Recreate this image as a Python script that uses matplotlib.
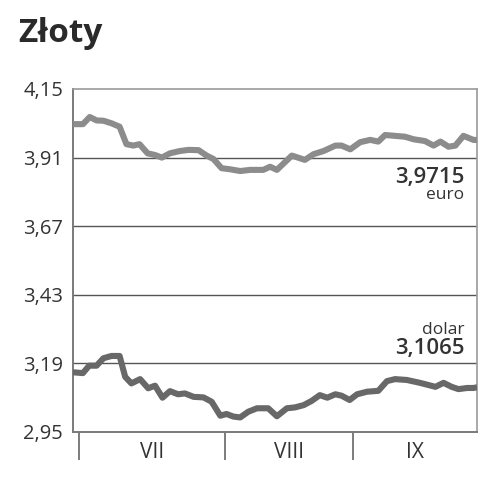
import matplotlib
matplotlib.use("Agg")
import matplotlib.pyplot as plt
import numpy as np

# trading-day index (0 = end of June) and PLN rates
euro_day = [0.0, 1.6, 2.7, 3.8, 4.9, 6.2, 7.5, 8.6, 9.7, 10.7, 12.0, 13.2, 14.3,
            15.6, 17.2, 18.6, 20.2, 21.5, 22.6, 23.9, 25.3, 26.9, 28.5, 30.6,
            31.7, 32.8, 35.2, 37.3, 38.7, 40.3, 42.2, 43.2, 44.6, 46.2, 47.8,
            49.1, 50.2, 51.8, 53.4, 54.8, 56.6, 58.0, 59.1, 60.4, 61.5, 62.8,
            64.4, 65.0]
euro_rate = [4.027, 4.027, 4.052, 4.040, 4.039, 4.030, 4.018, 3.957, 3.952, 3.957,
             3.925, 3.919, 3.910, 3.925, 3.933, 3.937, 3.936, 3.917, 3.905, 3.873,
             3.869, 3.863, 3.867, 3.867, 3.878, 3.867, 3.917, 3.902, 3.922, 3.933,
             3.952, 3.952, 3.939, 3.964, 3.972, 3.966, 3.989, 3.986, 3.983, 3.974,
             3.968, 3.952, 3.966, 3.948, 3.952, 3.986, 3.972, 3.9715]

usd_day = [0.0, 1.6, 2.6, 3.8, 4.9, 6.2, 7.5, 8.4, 9.4, 10.8, 12.1, 13.2, 14.4,
           15.6, 16.9, 18.0, 19.4, 21.0, 22.3, 23.7, 24.7, 25.8, 26.9, 28.2,
           29.6, 31.4, 32.8, 34.4, 35.7, 37.1, 38.4, 39.7, 40.9, 42.2, 43.2,
           44.5, 45.7, 47.3, 49.1, 50.5, 51.8, 53.7, 55.8, 58.3, 59.6, 60.9,
           62.0, 63.4, 64.4, 65.0]
usd_rate = [3.159, 3.156, 3.182, 3.182, 3.208, 3.216, 3.216, 3.143, 3.120, 3.135,
            3.103, 3.112, 3.070, 3.093, 3.082, 3.085, 3.073, 3.071, 3.056, 3.007,
            3.013, 3.004, 3.001, 3.021, 3.033, 3.033, 3.005, 3.033, 3.036, 3.044,
            3.059, 3.079, 3.070, 3.082, 3.077, 3.062, 3.082, 3.091, 3.094, 3.128,
            3.135, 3.132, 3.122, 3.108, 3.122, 3.108, 3.100, 3.104, 3.104, 3.1065]

y_ticks = [2.95, 3.19, 3.43, 3.67, 3.91, 4.15]
month_starts = [1.0, 24.5, 45.1]
month_labels = ["VII", "VIII", "IX"]
x_end = 65.0

plt.rcParams["font.family"] = ["Open Sans", "DejaVu Sans"]
text_col = "#333333"

fig = plt.figure(figsize=(4.8, 4.8), dpi=100)
ax = fig.add_axes([0.152, 0.10, 0.842, 0.7146])

for y in y_ticks[1:-1]:
    ax.axhline(y, color="#555555", lw=1.0, zorder=1)

ax.plot(euro_day, euro_rate, color="#8c8c8c", lw=4.4, solid_joinstyle="round",
        solid_capstyle="butt", zorder=3)
ax.plot(usd_day, usd_rate, color="#686868", lw=4.4, solid_joinstyle="round",
        solid_capstyle="butt", zorder=3)

ax.set_xlim(0, x_end)
ax.set_ylim(y_ticks[0], y_ticks[-1])

ax.set_yticks(y_ticks)
ax.set_yticklabels([f"{v:.2f}".replace(".", ",") for v in y_ticks])
ax.tick_params(axis="y", length=0, pad=7, labelsize=14.5, labelcolor=text_col)

bounds = month_starts + [x_end]
centers = [(a + b) / 2 for a, b in zip(bounds[:-1], bounds[1:])]
ax.set_xticks(month_starts)
ax.set_xticklabels([])
ax.set_xticks(centers, minor=True)
ax.set_xticklabels(month_labels, minor=True)
ax.tick_params(axis="x", which="major", length=20, width=1.2, color="#666666",
               direction="out")
ax.tick_params(axis="x", which="minor", length=0, pad=7, labelsize=15,
               labelcolor=text_col)

for side in ["left", "bottom"]:
    ax.spines[side].set_color("#7a7a7a")
    ax.spines[side].set_linewidth(1.4)
for side in ["top", "right"]:
    ax.spines[side].set_color("#9a9a9a")
    ax.spines[side].set_linewidth(1.2)

ax.text(0.968, 0.727, "3,9715", transform=ax.transAxes, ha="right", va="baseline",
        fontsize=16, fontweight="semibold", color=text_col)
ax.text(0.968, 0.680, "euro", transform=ax.transAxes, ha="right", va="baseline",
        fontsize=12.5, color=text_col)
ax.text(0.968, 0.287, "dolar", transform=ax.transAxes, ha="right", va="baseline",
        fontsize=12.5, color=text_col)
ax.text(0.968, 0.2265, "3,1065", transform=ax.transAxes, ha="right", va="baseline",
        fontsize=16, fontweight="semibold", color=text_col)

fig.text(18 / 480, 1 - 42 / 480, "Złoty", ha="left", va="baseline",
         fontsize=24, fontweight="bold", color="#2a2a2a")

fig.savefig("out.png", dpi=100, facecolor="white")
